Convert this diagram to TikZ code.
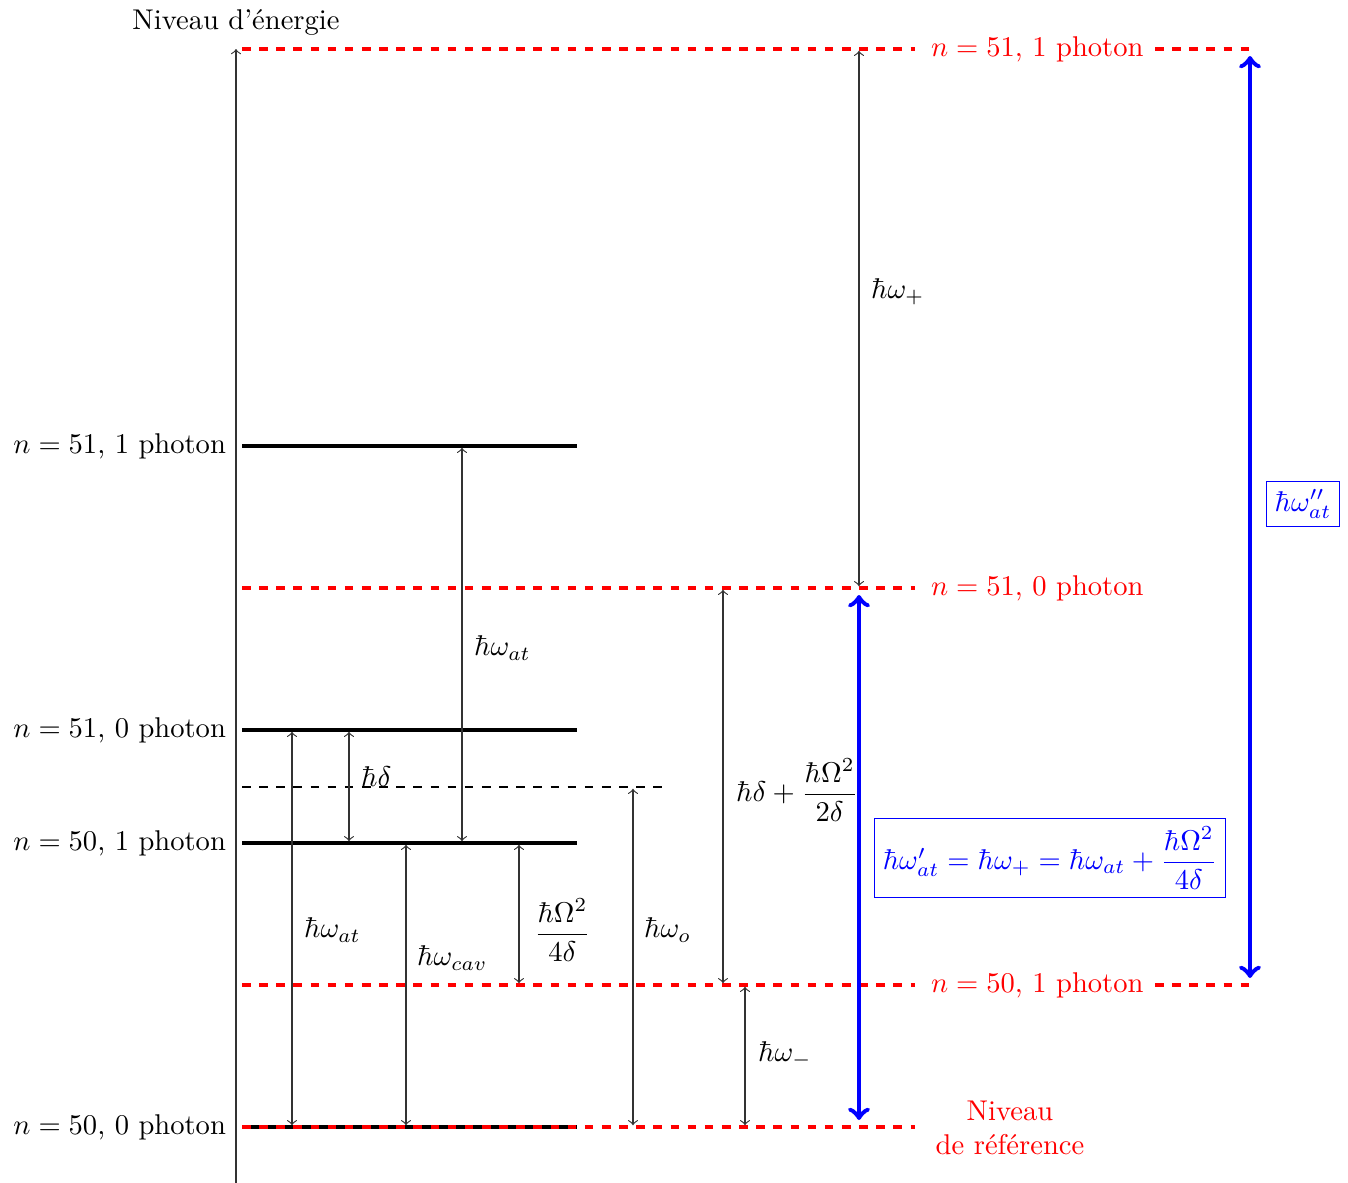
\documentclass[tikz,border=0pt]{standalone}
\usepackage{amsmath}

\begin{document}
\begin{tikzpicture}[
  x=0.35pt, y=-0.35pt,
  niveau/.style={line width=1.6pt},
  virtuel/.style={red, dashed, line width=1.4pt},
  fleche/.style={<->, thin, black!80, shorten <=0.6pt, shorten >=0.6pt},
  bleue/.style={<->, blue, line width=1.7pt},
  cadre/.style={draw=blue, text=blue, thin, inner sep=3pt},
  etiq/.style={anchor=west}
]
\useasboundingbox (0,0) rectangle (1348,1183);

% Axe des energies
\draw[->, thin, black!80] (236,1183) -- (236,49);
\node (axe) at (236,22) {Niveau d'énergie};

% Niveaux habilles
\draw[niveau] (242,446) -- (577,446);
\draw[niveau] (242,730) -- (577,730);
\draw[niveau] (242,843) -- (577,843);
\draw[niveau] (242,1127) -- (577,1127);
\draw[dashed, semithick] (242,787) -- (662,787);

\node[anchor=east] (g51a) at (236,446) {$n=51$, 1 photon};
\node[anchor=east] (g51z) at (236,730) {$n=51$, 0 photon};
\node[anchor=east] (g50a) at (236,843) {$n=50$, 1 photon};
\node[anchor=east] (g50z) at (236,1127) {$n=50$, 0 photon};

% Niveaux non couples (rouge)
\draw[virtuel] (242,49) -- (915,49);
\draw[virtuel] (1155,49) -- (1255,49);
\draw[virtuel] (242,588) -- (915,588);
\draw[virtuel] (242,985) -- (915,985);
\draw[virtuel] (1155,985) -- (1255,985);
\draw[virtuel] (242,1127) -- (915,1127);

\node[etiq, red] (r51a) at (921,49) {$n=51$, 1 photon};
\node[etiq, red] (r51z) at (921,588) {$n=51$, 0 photon};
\node[etiq, red] (r50a) at (921,985) {$n=50$, 1 photon};
\node[red, align=center] (ref) at (1010,1128) {Niveau\\de référence};

% Ecarts d'energie
\draw[fleche] (292,1127) -- (292,730);
\node[etiq] (wat1) at (294,930) {$\hbar\omega_{at}$};
\draw[fleche] (349,730) -- (349,843);
\node[etiq] (d) at (351,777) {$\hbar\delta$};
\draw[fleche] (462,446) -- (462,843);
\node[etiq] (wat2) at (464,648) {$\hbar\omega_{at}$};
\draw[fleche] (406,843) -- (406,1127);
\node[etiq] (wcav) at (407,958) {$\hbar\omega_{cav}$};
\draw[fleche] (519,843) -- (519,985);
\node[etiq] (om4) at (524,930) {$\dfrac{\hbar\Omega^2}{4\delta}$};
\draw[fleche] (633,787) -- (633,1127);
\node[etiq] (wo) at (634,930) {$\hbar\omega_o$};
\draw[fleche] (723,588) -- (723,985);
\node[etiq] (om2) at (726,790) {$\hbar\delta+\dfrac{\hbar\Omega^2}{2\delta}$};
\draw[fleche] (745,985) -- (745,1127);
\node[etiq] (wm) at (748,1055) {$\hbar\omega_-$};
\draw[fleche] (859,49) -- (859,588);
\node[etiq] (wp) at (861,292) {$\hbar\omega_+$};

% Transitions atomiques modifiees
\draw[bleue] (859,595) -- (859,1120);
\node[cadre] (watp) at (1050,858) {$\hbar\omega'_{at}=\hbar\omega_+=\hbar\omega_{at}+\dfrac{\hbar\Omega^2}{4\delta}$};
\draw[bleue] (1250,56) -- (1250,978);
\node[cadre] (watpp) at (1303,504) {$\hbar\omega''_{at}$};

\end{tikzpicture}
\end{document}
